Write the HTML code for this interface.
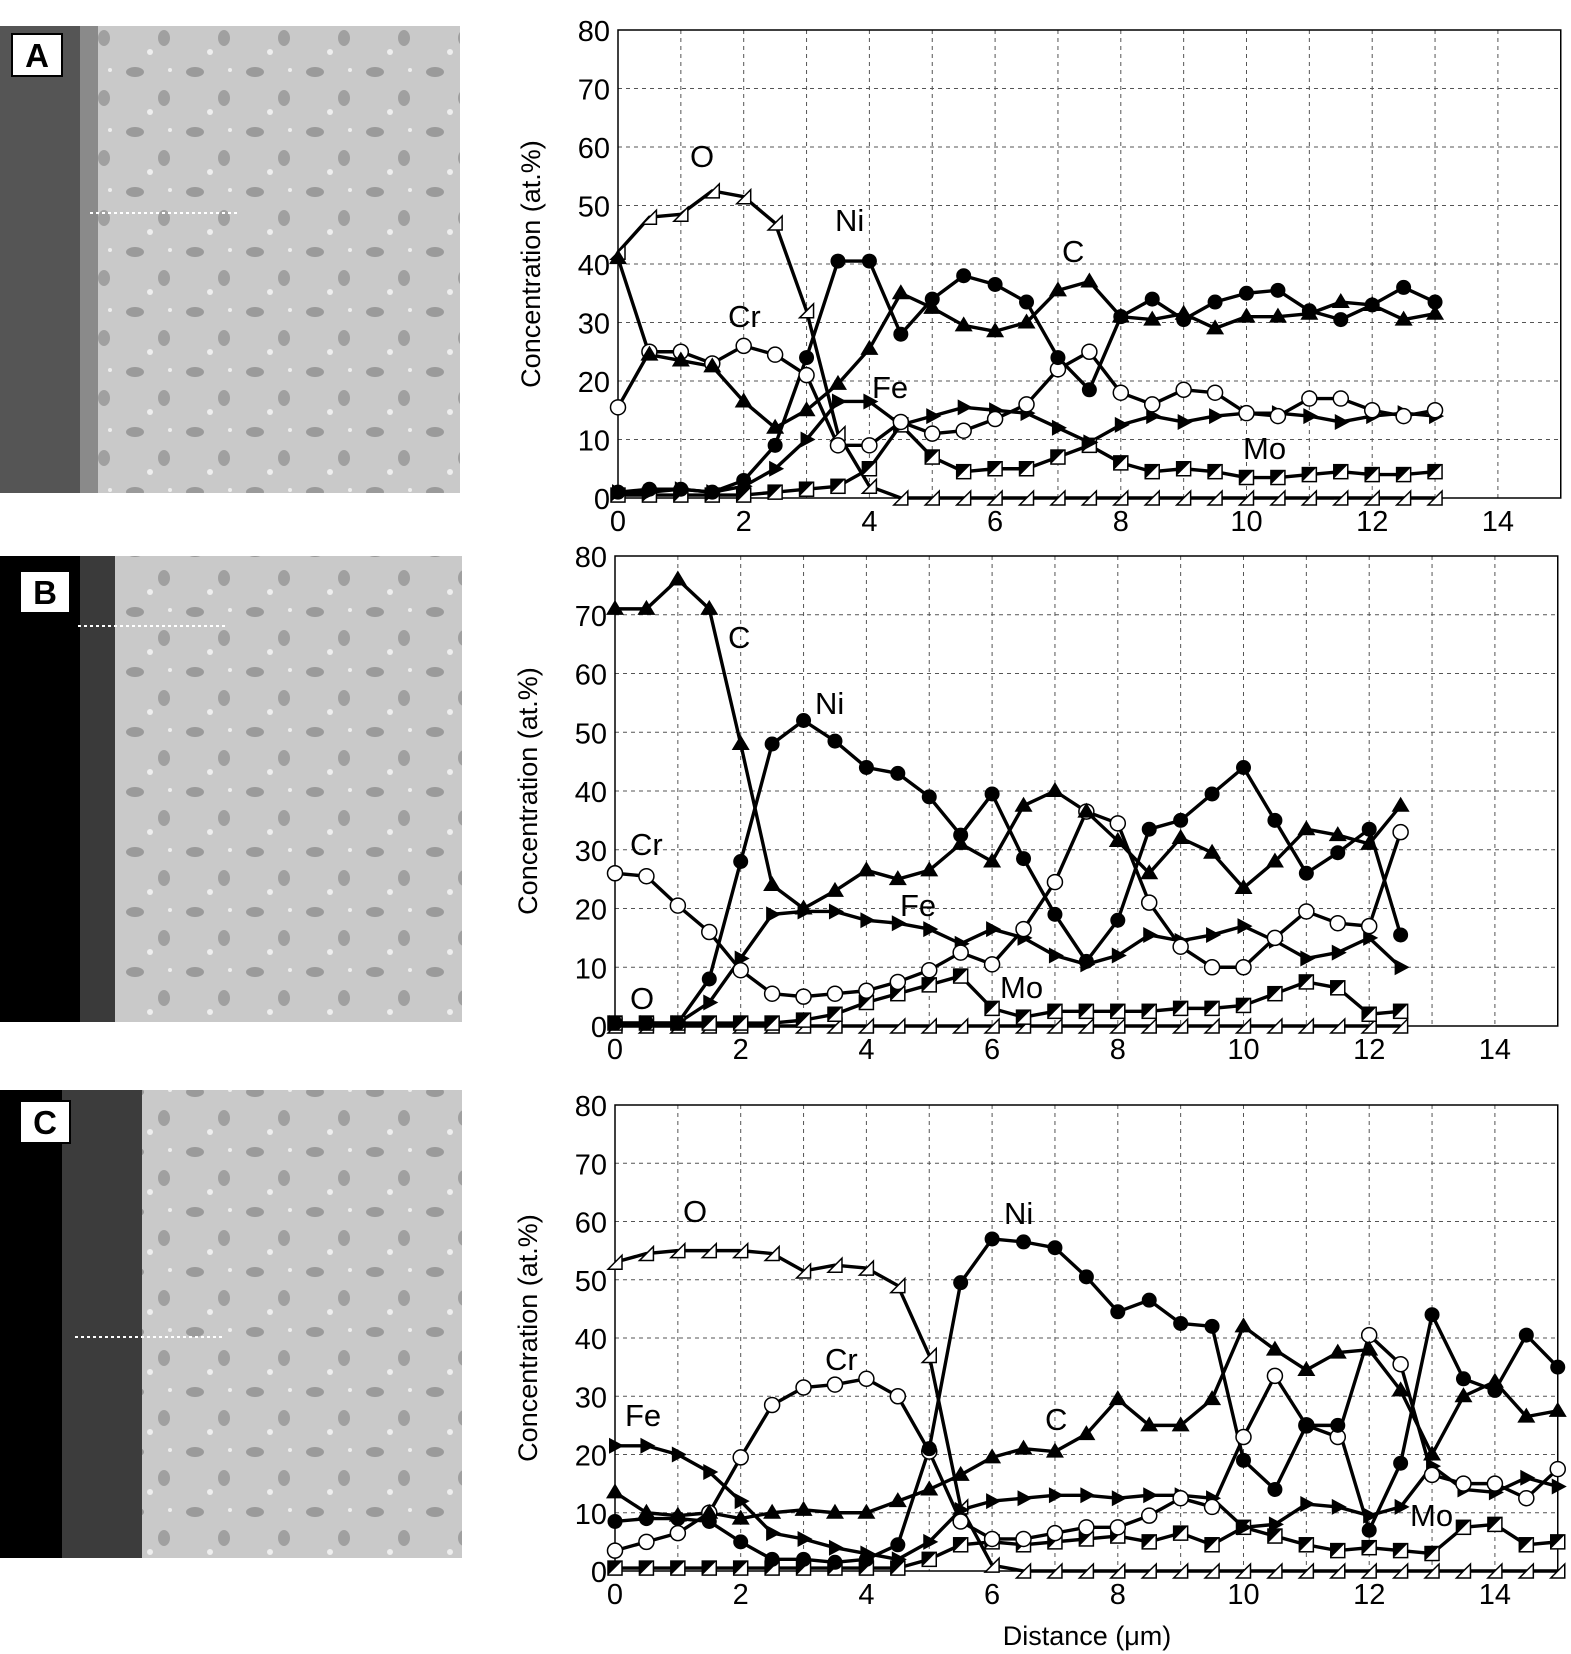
<!DOCTYPE html>
<html><head><meta charset="utf-8"><style>
body{margin:0;background:#fff;width:1571px;height:1654px;overflow:hidden}
svg{display:block}
text{font-family:"Liberation Sans",sans-serif;fill:#000}
</style></head><body>
<svg id="s" width="1571" height="1654" viewBox="0 0 1571 1654" xmlns="http://www.w3.org/2000/svg">
<defs>
<pattern id="tex" width="60" height="60" patternUnits="userSpaceOnUse">
<rect width="60" height="60" fill="#c9c9c9"/>
<ellipse cx="15" cy="12" rx="9" ry="5" fill="#9a9a9a"/>
<ellipse cx="44" cy="38" rx="6" ry="8" fill="#a0a0a0"/>
<circle cx="30" cy="52" r="3" fill="#eee"/>
<circle cx="50" cy="10" r="2" fill="#eee"/>
</pattern>
</defs>
<rect x="0" y="26" width="460" height="467" fill="url(#tex)"/>
<rect x="0" y="26" width="82" height="467" fill="#555"/>
<rect x="80" y="26" width="18" height="467" fill="#8a8a8a"/>
<line x1="90" y1="213" x2="240" y2="213" stroke="#fff" stroke-width="2" stroke-dasharray="3,3"/>
<rect x="12" y="34" width="50" height="42" fill="#fff" stroke="#000" stroke-width="2"/>
<text x="37" y="67" font-size="33" font-weight="bold" text-anchor="middle">A</text>

<rect x="0" y="556" width="462" height="466" fill="url(#tex)"/>
<rect x="0" y="556" width="85" height="466" fill="#000"/>
<rect x="80" y="556" width="35" height="466" fill="#3a3a3a"/>
<line x1="78" y1="626" x2="228" y2="626" stroke="#fff" stroke-width="2" stroke-dasharray="3,3"/>
<rect x="20" y="571" width="50" height="42" fill="#fff" stroke="#000" stroke-width="2"/>
<text x="45" y="604" font-size="33" font-weight="bold" text-anchor="middle">B</text>

<rect x="0" y="1090" width="462" height="468" fill="url(#tex)"/>
<rect x="0" y="1090" width="65" height="468" fill="#000"/>
<rect x="62" y="1090" width="80" height="468" fill="#3c3c3c"/>
<line x1="75" y1="1337" x2="225" y2="1337" stroke="#fff" stroke-width="2" stroke-dasharray="3,3"/>
<rect x="20" y="1101" width="50" height="42" fill="#fff" stroke="#000" stroke-width="2"/>
<text x="45" y="1134" font-size="33" font-weight="bold" text-anchor="middle">C</text>
<g id="g"></g>
<g font-size="31">
<text x="690" y="167">O</text><text x="835" y="231">Ni</text><text x="728" y="327">Cr</text><text x="872" y="398">Fe</text><text x="1062" y="262">C</text><text x="1243" y="459">Mo</text>
<text x="728" y="648">C</text><text x="815" y="714">Ni</text><text x="630" y="855">Cr</text><text x="900" y="916">Fe</text><text x="630" y="1009">O</text><text x="1000" y="998">Mo</text>
<text x="683" y="1222">O</text><text x="1004" y="1224">Ni</text><text x="825" y="1370">Cr</text><text x="1045" y="1430">C</text><text x="625" y="1426">Fe</text><text x="1410" y="1526">Mo</text>
</g>
<text x="1087" y="1645" font-size="27" text-anchor="middle">Distance (μm)</text>
</svg>
<script>
var NS="http://www.w3.org/2000/svg",g=document.getElementById('g');
function el(t,a,p){var e=document.createElementNS(NS,t);for(var k in a)e.setAttribute(k,a[k]);(p||g).appendChild(e);return e;}
function chart(x0,yt,h,xs,series){
 var sx=62.85,sy=h/80;
 function X(v){return x0+v*sx} function Y(v){return yt+(80-v)*sy}
 var R=X(15),B=Y(0);
 for(var i=1;i<15;i++)el('line',{x1:X(i),y1:yt,x2:X(i),y2:B,stroke:'#555','stroke-width':1,'stroke-dasharray':'4,4'});
 for(var j=10;j<80;j+=10)el('line',{x1:x0,y1:Y(j),x2:R,y2:Y(j),stroke:'#555','stroke-width':1,'stroke-dasharray':'4,4'});
 el('rect',{x:x0,y:yt,width:R-x0,height:B-yt,fill:'none',stroke:'#000','stroke-width':1.5});
 for(var j=0;j<=80;j+=10){var t=el('text',{x:x0-8,y:Y(j)+11,'font-size':29,'text-anchor':'end'});t.textContent=j;}
 for(var i=0;i<=14;i+=2){var t=el('text',{x:X(i),y:B+33,'font-size':29,'text-anchor':'middle'});t.textContent=i;}
 var t=el('text',{x:0,y:0,'font-size':27,'text-anchor':'middle',transform:'translate('+(x0-78)+','+((yt+B)/2)+') rotate(-90)'});t.textContent='Concentration (at.%)';
 series.forEach(function(s){
  var pts=s.d.map(function(v,i){return X(i*0.5)+','+Y(v)}).join(' ');
  el('polyline',{points:pts,fill:'none',stroke:'#000','stroke-width':3.4,'stroke-linejoin':'round'});
 });
 series.forEach(function(s){
  s.d.forEach(function(v,i){var x=X(i*0.5),y=Y(v);
   if(s.m=='fc')el('circle',{cx:x,cy:y,r:7.5,fill:'#000'});
   else if(s.m=='oc')el('circle',{cx:x,cy:y,r:7.5,fill:'#fff',stroke:'#000','stroke-width':1.5});
   else if(s.m=='ft')el('path',{d:'M'+x+' '+(y-9)+'L'+(x+9)+' '+(y+6)+'L'+(x-9)+' '+(y+6)+'Z',fill:'#000'});
   else if(s.m=='ot')el('path',{d:'M'+(x+7)+' '+(y-7)+'L'+(x+7)+' '+(y+7)+'L'+(x-7)+' '+(y+7)+'Z',fill:'#fff',stroke:'#000','stroke-width':1.5});
   else if(s.m=='fr')el('path',{d:'M'+(x-6)+' '+(y-8)+'L'+(x+9)+' '+(y)+'L'+(x-6)+' '+(y+8)+'Z',fill:'#000'});
   else if(s.m=='sq'){el('rect',{x:x-7,y:y-7,width:14,height:14,fill:'#fff',stroke:'#000','stroke-width':1.5});el('path',{d:'M'+(x-7)+' '+(y-7)+'L'+(x+7)+' '+(y-7)+'L'+(x-7)+' '+(y+7)+'Z',fill:'#000'});}
  });
 });
}
var z=function(n){var a=[];for(var i=0;i<n;i++)a.push(0);return a;};
chart(618,30,468,0,[
 {m:'ot',d:[42,48,48.5,52.5,51.5,47,32,11,2].concat(z(18))},
 {m:'sq',d:[0.5,0.5,0.5,0.5,0.5,1,1.5,2,5,12.5,7,4.5,5,5,7,9,6,4.5,5,4.5,3.5,3.5,4,4.5,4,4,4.5]},
 {m:'fr',d:[1,1,1.5,1,2,5,10,16.5,16.5,12.5,14,15.5,15,14.5,12,9.5,12.5,14,13,14,14.5,14.5,14,13,14,14.5,14]},
 {m:'oc',d:[15.5,25,25,23,26,24.5,21,9,9,13,11,11.5,13.5,16,22,25,18,16,18.5,18,14.5,14,17,17,15,14,15]},
 {m:'ft',d:[41,24.5,23.5,22.5,16.5,12,15,19.5,25.5,35,32.5,29.5,28.5,30,35.5,37,31,30.5,31.5,29,31,31,31.5,33.5,33,30.5,31.5]},
 {m:'fc',d:[1,1.5,1.5,1,3,9,24,40.5,40.5,28,34,38,36.5,33.5,24,18.5,31,34,30.5,33.5,35,35.5,32,30.5,33,36,33.5]}
]);
chart(615,556,470,0,[
 {m:'ot',d:z(26)},
 {m:'sq',d:[0.5,0.5,0.5,0.5,0.5,0.5,1,2,4,5.5,7,8.5,3,1.5,2.5,2.5,2.5,2.5,3,3,3.5,5.5,7.5,6.5,2,2.5]},
 {m:'fr',d:[0.5,0.5,0.5,4,11.5,19,19.5,19.5,18,17.5,16.5,14,16.5,15,12,10.5,12,15.5,14.5,15.5,17,14.5,11.5,12.5,15,10]},
 {m:'oc',d:[26,25.5,20.5,16,9.5,5.5,5,5.5,6,7.5,9.5,12.5,10.5,16.5,24.5,36.5,34.5,21,13.5,10,10,15,19.5,17.5,17,33]},
 {m:'ft',d:[71,71,76,71,48,24,20,23,26.5,25,26.5,31,28,37.5,40,36.5,31.5,26,32,29.5,23.5,28,33.5,32.5,31,37.5]},
 {m:'fc',d:[0.5,0.5,0.5,8,28,48,52,48.5,44,43,39,32.5,39.5,28.5,19,11,18,33.5,35,39.5,44,35,26,29.5,33.5,15.5]}
]);
chart(615,1105,466,0,[
 {m:'ot',d:[53,54.5,55,55,55,54.5,51.5,52.5,52,49,37,11,1].concat(z(18))},
 {m:'sq',d:[0.5,0.5,0.5,0.5,0.5,0.5,0.5,0.5,0.5,0.5,2,4.5,5,4.5,5,5.5,6,5,6.5,4.5,7.5,6,4.5,3.5,4,3.5,3,7.5,8,4.5,5]},
 {m:'fr',d:[21.5,21.5,20,17,12,6.5,5.5,4,3,2,5,10.5,12,12.5,13,13,12.5,13,13,12.5,7.5,8,11.5,11,9.5,11,18,14,13.5,16,14.5]},
 {m:'oc',d:[3.5,5,6.5,10,19.5,28.5,31.5,32,33,30,20.5,8.5,5.5,5.5,6.5,7.5,7.5,9.5,12.5,11,23,33.5,25,23,40.5,35.5,16.5,15,15,12.5,17.5]},
 {m:'ft',d:[13.5,10,9.5,10,9,10,10.5,10,10,12,14,16.5,19.5,21,20.5,23.5,29.5,25,25,29.5,42,38,34.5,37.5,38,31,20,30,32.5,26.5,27.5]},
 {m:'fc',d:[8.5,9,9,8.5,5,2,2,1.5,2,4.5,21,49.5,57,56.5,55.5,50.5,44.5,46.5,42.5,42,19,14,25,25,7,18.5,44,33,31,40.5,35]}
]);
</script>
</body></html>
